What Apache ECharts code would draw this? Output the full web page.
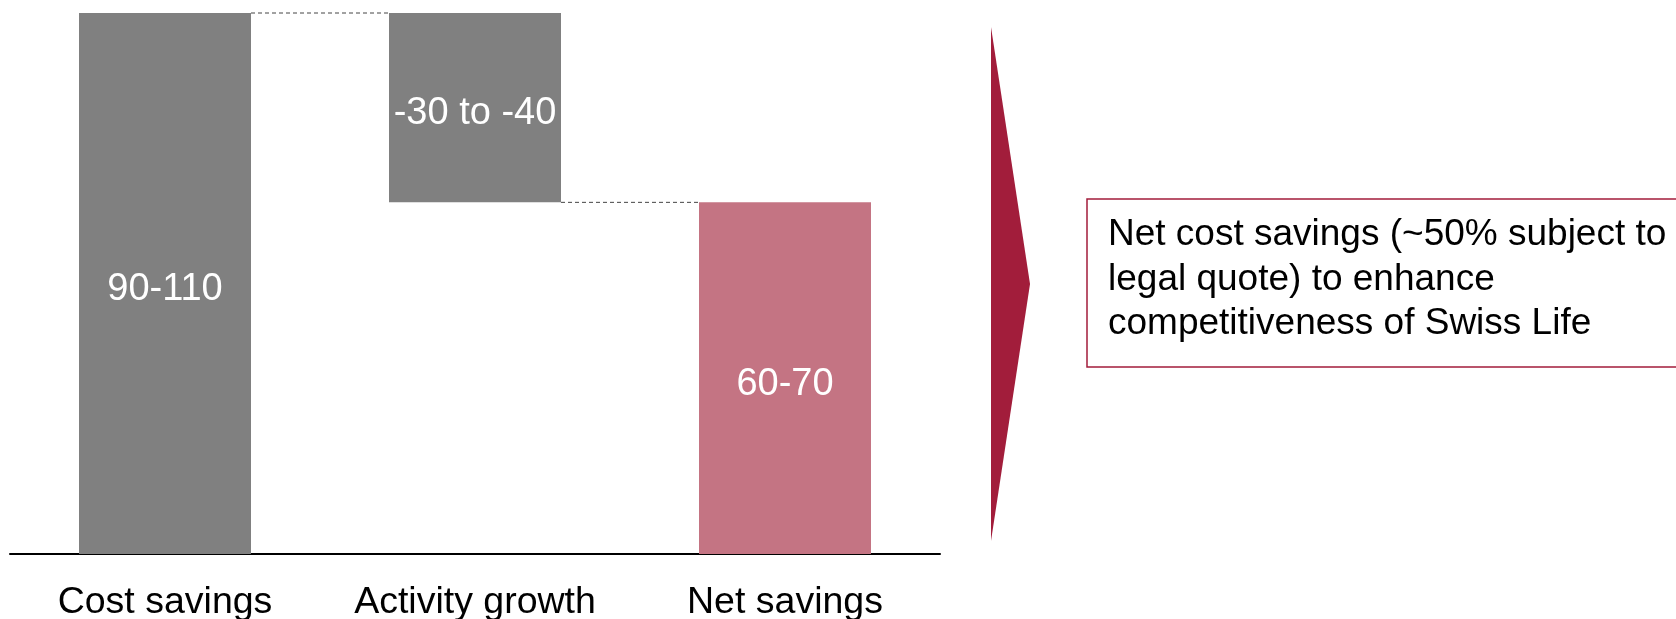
<!DOCTYPE html>
<html>
<head>
<meta charset="utf-8">
<title>Net savings bridge</title>
<script src="https://cdn.jsdelivr.net/npm/echarts@6/dist/echarts.min.js"></script>
<style>
  html, body { margin: 0; padding: 0; background: #ffffff; }
  #chart { width: 1676px; height: 619px; }
</style>
</head>
<body>
<div id="chart"></div>
<script>
// Bridge steps (midpoint of each stated range)
var categories = ['Cost savings', 'Activity growth', 'Net savings'];
var stepValues = [100, -35, 65];          // change contributed by each step
var stepLabels = ['90-110', '-30 to -40', '60-70'];
var isTotal = [true, false, true];        // totals start from zero
var noteLines = [
  'Net cost savings (~50% subject to',
  'legal quote) to enhance',
  'competitiveness of Swiss Life'
];

var GRAY = '#808080';
var ROSE = '#c47483';
var CRIMSON = '#a21d3b';
var BAR_WIDTH = 172;
var FONT = '"Liberation Sans", Arial, sans-serif';

// Build invisible base + visible block for a waterfall
var baseData = [];
var blockData = [];
var levels = [];   // running level after each step
var running = 0;
stepValues.forEach(function (v, i) {
  if (isTotal[i]) {
    baseData.push(0);
    blockData.push({ value: v, itemStyle: { color: i === stepValues.length - 1 ? ROSE : GRAY } });
    running = v;
  } else {
    var next = running + v;
    baseData.push(Math.min(running, next));
    blockData.push({ value: Math.abs(v), itemStyle: { color: GRAY } });
    running = next;
  }
  levels.push(running);
});

// Connector segments: from right edge of step i to left edge of step i+1
var connectorData = [];
for (var i = 0; i < categories.length - 1; i++) {
  connectorData.push([i, levels[i]]);
}

var chart = echarts.init(document.getElementById('chart'), null, { renderer: 'canvas' });

chart.setOption({
  animation: false,
  backgroundColor: '#ffffff',
  grid: {
    left: 10, right: 736, top: 13, bottom: 65,
    containLabel: false,
    outerBoundsMode: 'none'
  },
  xAxis: {
    type: 'category',
    data: categories,
    axisLine: { show: true, lineStyle: { color: '#000000', width: 2 } },
    axisTick: { show: false },
    axisLabel: { color: '#000000', fontSize: 37.5, fontFamily: FONT, margin: 30, interval: 0 },
    splitLine: { show: false }
  },
  yAxis: {
    type: 'value',
    min: 0,
    max: 100,
    show: false,
    splitLine: { show: false }
  },
  series: [
    {
      name: 'base',
      type: 'bar',
      stack: 'bridge',
      barWidth: BAR_WIDTH,
      data: baseData,
      itemStyle: { color: 'rgba(0,0,0,0)' },
      silent: true
    },
    {
      name: 'step',
      type: 'bar',
      stack: 'bridge',
      barWidth: BAR_WIDTH,
      data: blockData,
      label: {
        show: true,
        position: 'inside',
        offset: [0, 6],
        color: '#ffffff',
        fontSize: 38,
        fontFamily: FONT,
        formatter: function (p) { return stepLabels[p.dataIndex]; }
      }
    },
    {
      name: 'connector',
      type: 'custom',
      data: connectorData,
      silent: true,
      z: 3,
      renderItem: function (params, api) {
        var idx = api.value(0);
        var level = api.value(1);
        var p0 = api.coord([idx, level]);
        var p1 = api.coord([idx + 1, level]);
        return {
          type: 'line',
          shape: { x1: p0[0] + BAR_WIDTH / 2, y1: p0[1], x2: p1[0] - BAR_WIDTH / 2, y2: p1[1] },
          style: { stroke: '#444444', lineWidth: 1, lineDash: [4, 3] }
        };
      }
    }
  ],
  graphic: [
    {
      type: 'polygon',
      shape: { points: [[991, 27], [1030, 284], [991, 541]] },
      style: { fill: CRIMSON }
    },
    {
      type: 'rect',
      shape: { x: 1087, y: 199, width: 640, height: 168 },
      style: { fill: '#ffffff', stroke: CRIMSON, lineWidth: 1.5 }
    },
    {
      type: 'text',
      x: 1108,
      y: 213,
      style: {
        text: noteLines.join('\n'),
        fill: '#000000',
        font: '37px ' + FONT,
        lineHeight: 44.5,
        verticalAlign: 'top',
        align: 'left'
      }
    }
  ]
});
</script>
</body>
</html>
